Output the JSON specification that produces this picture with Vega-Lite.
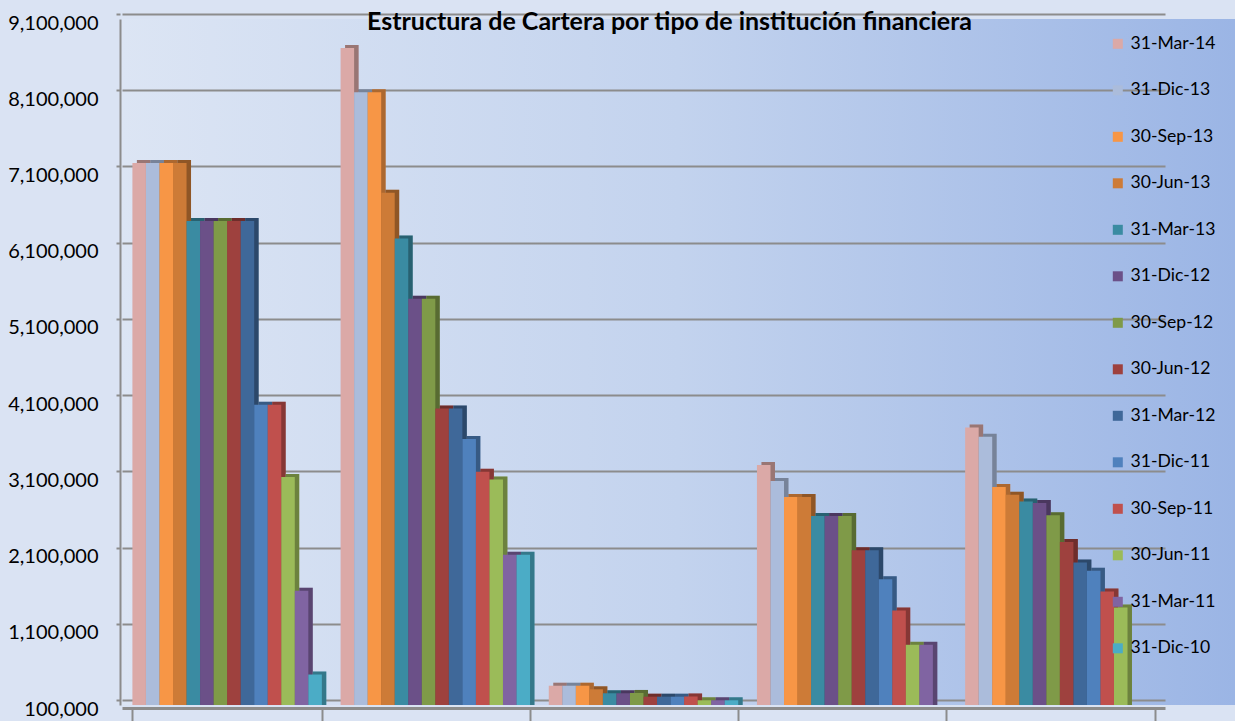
{
  "$schema": "https://vega.github.io/schema/vega-lite/v6.json",
  "width": 1115,
  "height": 686,
  "autosize": {"type": "none"},
  "padding": {"left": 120, "top": 19, "right": 0, "bottom": 16},
  "background": "#dae3f3",
  "config": {
    "font": "Lato",
    "view": {
      "stroke": null,
      "fill": {"gradient": "linear", "x1": 0, "y1": 0, "x2": 1, "y2": 0,
        "stops": [{"offset": 0, "color": "#dce5f4"}, {"offset": 0.5, "color": "#c3d3ee"}, {"offset": 1, "color": "#9bb5e5"}]}
    },
    "legend": {
      "title": null,
      "orient": "none",
      "legendX": 989,
      "legendY": 16,
      "direction": "vertical",
      "symbolType": "square",
      "symbolSize": 100,
      "symbolStrokeWidth": 0,
      "labelFontSize": 17.6,
      "labelColor": "#000000",
      "labelOffset": 4,
      "rowPadding": 27.5,
      "padding": 0
    }
  },
  "title": {
    "text": "Estructura de Cartera por tipo de institución financiera",
    "fontSize": 25,
    "fontWeight": "bold",
    "color": "#000000",
    "anchor": "middle",
    "frame": "group",
    "baseline": "middle",
    "offset": -34,
    "dx": -8
  },
  "data": {
    "values": [
      {"tipo": "Tipo 1", "serie": "31-Mar-14", "valor": 7210000},
      {"tipo": "Tipo 1", "serie": "31-Dic-13", "valor": 7210000},
      {"tipo": "Tipo 1", "serie": "30-Sep-13", "valor": 7210000},
      {"tipo": "Tipo 1", "serie": "30-Jun-13", "valor": 7210000},
      {"tipo": "Tipo 1", "serie": "31-Mar-13", "valor": 6450000},
      {"tipo": "Tipo 1", "serie": "31-Dic-12", "valor": 6450000},
      {"tipo": "Tipo 1", "serie": "30-Sep-12", "valor": 6450000},
      {"tipo": "Tipo 1", "serie": "30-Jun-12", "valor": 6450000},
      {"tipo": "Tipo 1", "serie": "31-Mar-12", "valor": 6450000},
      {"tipo": "Tipo 1", "serie": "31-Dic-11", "valor": 4040000},
      {"tipo": "Tipo 1", "serie": "30-Sep-11", "valor": 4040000},
      {"tipo": "Tipo 1", "serie": "30-Jun-11", "valor": 3090000},
      {"tipo": "Tipo 1", "serie": "31-Mar-11", "valor": 1600000},
      {"tipo": "Tipo 1", "serie": "31-Dic-10", "valor": 500000},
      {"tipo": "Tipo 2", "serie": "31-Mar-14", "valor": 8720000},
      {"tipo": "Tipo 2", "serie": "31-Dic-13", "valor": 8140000},
      {"tipo": "Tipo 2", "serie": "30-Sep-13", "valor": 8140000},
      {"tipo": "Tipo 2", "serie": "30-Jun-13", "valor": 6820000},
      {"tipo": "Tipo 2", "serie": "31-Mar-13", "valor": 6220000},
      {"tipo": "Tipo 2", "serie": "31-Dic-12", "valor": 5430000},
      {"tipo": "Tipo 2", "serie": "30-Sep-12", "valor": 5430000},
      {"tipo": "Tipo 2", "serie": "30-Jun-12", "valor": 3990000},
      {"tipo": "Tipo 2", "serie": "31-Mar-12", "valor": 3990000},
      {"tipo": "Tipo 2", "serie": "31-Dic-11", "valor": 3590000},
      {"tipo": "Tipo 2", "serie": "30-Sep-11", "valor": 3160000},
      {"tipo": "Tipo 2", "serie": "30-Jun-11", "valor": 3060000},
      {"tipo": "Tipo 2", "serie": "31-Mar-11", "valor": 2070000},
      {"tipo": "Tipo 2", "serie": "31-Dic-10", "valor": 2070000},
      {"tipo": "Tipo 3", "serie": "31-Mar-14", "valor": 353000},
      {"tipo": "Tipo 3", "serie": "31-Dic-13", "valor": 353000},
      {"tipo": "Tipo 3", "serie": "30-Sep-13", "valor": 353000},
      {"tipo": "Tipo 3", "serie": "30-Jun-13", "valor": 306000},
      {"tipo": "Tipo 3", "serie": "31-Mar-13", "valor": 254000},
      {"tipo": "Tipo 3", "serie": "31-Dic-12", "valor": 254000},
      {"tipo": "Tipo 3", "serie": "30-Sep-12", "valor": 258000},
      {"tipo": "Tipo 3", "serie": "30-Jun-12", "valor": 209000},
      {"tipo": "Tipo 3", "serie": "31-Mar-12", "valor": 209000},
      {"tipo": "Tipo 3", "serie": "31-Dic-11", "valor": 209000},
      {"tipo": "Tipo 3", "serie": "30-Sep-11", "valor": 212000},
      {"tipo": "Tipo 3", "serie": "30-Jun-11", "valor": 162000},
      {"tipo": "Tipo 3", "serie": "31-Mar-11", "valor": 162000},
      {"tipo": "Tipo 3", "serie": "31-Dic-10", "valor": 162000},
      {"tipo": "Tipo 4", "serie": "31-Mar-14", "valor": 3250000},
      {"tipo": "Tipo 4", "serie": "31-Dic-13", "valor": 3040000},
      {"tipo": "Tipo 4", "serie": "30-Sep-13", "valor": 2830000},
      {"tipo": "Tipo 4", "serie": "30-Jun-13", "valor": 2830000},
      {"tipo": "Tipo 4", "serie": "31-Mar-13", "valor": 2580000},
      {"tipo": "Tipo 4", "serie": "31-Dic-12", "valor": 2580000},
      {"tipo": "Tipo 4", "serie": "30-Sep-12", "valor": 2580000},
      {"tipo": "Tipo 4", "serie": "30-Jun-12", "valor": 2130000},
      {"tipo": "Tipo 4", "serie": "31-Mar-12", "valor": 2130000},
      {"tipo": "Tipo 4", "serie": "31-Dic-11", "valor": 1750000},
      {"tipo": "Tipo 4", "serie": "30-Sep-11", "valor": 1340000},
      {"tipo": "Tipo 4", "serie": "30-Jun-11", "valor": 890000},
      {"tipo": "Tipo 4", "serie": "31-Mar-11", "valor": 890000},
      {"tipo": "Tipo 5", "serie": "31-Mar-14", "valor": 3740000},
      {"tipo": "Tipo 5", "serie": "31-Dic-13", "valor": 3620000},
      {"tipo": "Tipo 5", "serie": "30-Sep-13", "valor": 2960000},
      {"tipo": "Tipo 5", "serie": "30-Jun-13", "valor": 2860000},
      {"tipo": "Tipo 5", "serie": "31-Mar-13", "valor": 2770000},
      {"tipo": "Tipo 5", "serie": "31-Dic-12", "valor": 2750000},
      {"tipo": "Tipo 5", "serie": "30-Sep-12", "valor": 2590000},
      {"tipo": "Tipo 5", "serie": "30-Jun-12", "valor": 2240000},
      {"tipo": "Tipo 5", "serie": "31-Mar-12", "valor": 1970000},
      {"tipo": "Tipo 5", "serie": "31-Dic-11", "valor": 1860000},
      {"tipo": "Tipo 5", "serie": "30-Sep-11", "valor": 1590000},
      {"tipo": "Tipo 5", "serie": "30-Jun-11", "valor": 1380000}
    ]
  },
  "encoding": {
    "x": {
      "field": "tipo",
      "type": "nominal",
      "scale": {"range": [2, 1045], "paddingInner": 0.09, "paddingOuter": 0.05},
      "axis": {
        "labels": false,
        "title": null,
        "tickBand": "extent",
        "tickSize": 13,
        "tickColor": "#8c8c8c",
        "tickWidth": 2,
        "domainColor": "#8c8c8c",
        "domainWidth": 3,
        "offset": 3
      }
    },
    "y": {
      "field": "valor",
      "type": "quantitative",
      "scale": {"domain": [100000, 9100000], "nice": false, "zero": false},
      "axis": {
        "values": [100000, 1100000, 2100000, 3100000, 4100000, 5100000, 6100000, 7100000, 8100000, 9100000],
        "format": ",d",
        "title": null,
        "labelFontSize": 20,
        "labelColor": "#000000",
        "labelPadding": 18,
        "tickSize": 4,
        "tickColor": "#8c8c8c",
        "tickWidth": 2,
        "domainColor": "#8c8c8c",
        "domainWidth": 2,
        "grid": true,
        "gridColor": "#8c8c8c",
        "gridWidth": 2,
        "tickOffset": -5,
        "labelOffset": 9
      }
    },
    "y2": {"datum": 100000},
    "color": {
      "field": "serie",
      "type": "nominal",
      "scale": {
        "domain": ["31-Mar-14", "31-Dic-13", "30-Sep-13", "30-Jun-13", "31-Mar-13", "31-Dic-12", "30-Sep-12", "30-Jun-12", "31-Mar-12", "31-Dic-11", "30-Sep-11", "30-Jun-11", "31-Mar-11", "31-Dic-10"],
        "range": ["#dba9a7", "#abbcdb", "#f79646", "#cd7b37", "#3a8ba2", "#6b5088", "#7f9a48", "#9e413e", "#3f6899", "#4f81bd", "#c0504d", "#9bbb59", "#8064a2", "#4bacc6"]
      }
    }
  },
  "resolve": {"scale": {"xOffset": "independent"}},
  "layer": [
    {
      "mark": {"type": "bar", "yOffset": -3},
      "encoding": {
        "xOffset": {
          "field": "serie", "type": "nominal",
          "scale": {
            "domain": ["31-Mar-14", "31-Dic-13", "30-Sep-13", "30-Jun-13", "31-Mar-13", "31-Dic-12", "30-Sep-12", "30-Jun-12", "31-Mar-12", "31-Dic-11", "30-Sep-11", "30-Jun-11", "31-Mar-11", "31-Dic-10"],
            "range": [4.5, 193.9], "paddingInner": 0, "paddingOuter": 0
          }
        }
      }
    },
    {
      "mark": {"type": "bar", "yOffset": -3, "opacity": 0.3},
      "encoding": {
        "color": {"value": "#000000"},
        "xOffset": {
          "field": "serie", "type": "nominal",
          "scale": {
            "domain": ["31-Mar-14", "31-Dic-13", "30-Sep-13", "30-Jun-13", "31-Mar-13", "31-Dic-12", "30-Sep-12", "30-Jun-12", "31-Mar-12", "31-Dic-11", "30-Sep-11", "30-Jun-11", "31-Mar-11", "31-Dic-10"],
            "range": [4.5, 193.9], "paddingInner": 0, "paddingOuter": 0
          }
        }
      }
    },
    {
      "mark": {"type": "bar"},
      "encoding": {
        "xOffset": {
          "field": "serie", "type": "nominal",
          "scale": {
            "domain": ["31-Mar-14", "31-Dic-13", "30-Sep-13", "30-Jun-13", "31-Mar-13", "31-Dic-12", "30-Sep-12", "30-Jun-12", "31-Mar-12", "31-Dic-11", "30-Sep-11", "30-Jun-11", "31-Mar-11", "31-Dic-10"],
            "paddingInner": 0, "paddingOuter": 0
          }
        }
      }
    }
  ]
}
